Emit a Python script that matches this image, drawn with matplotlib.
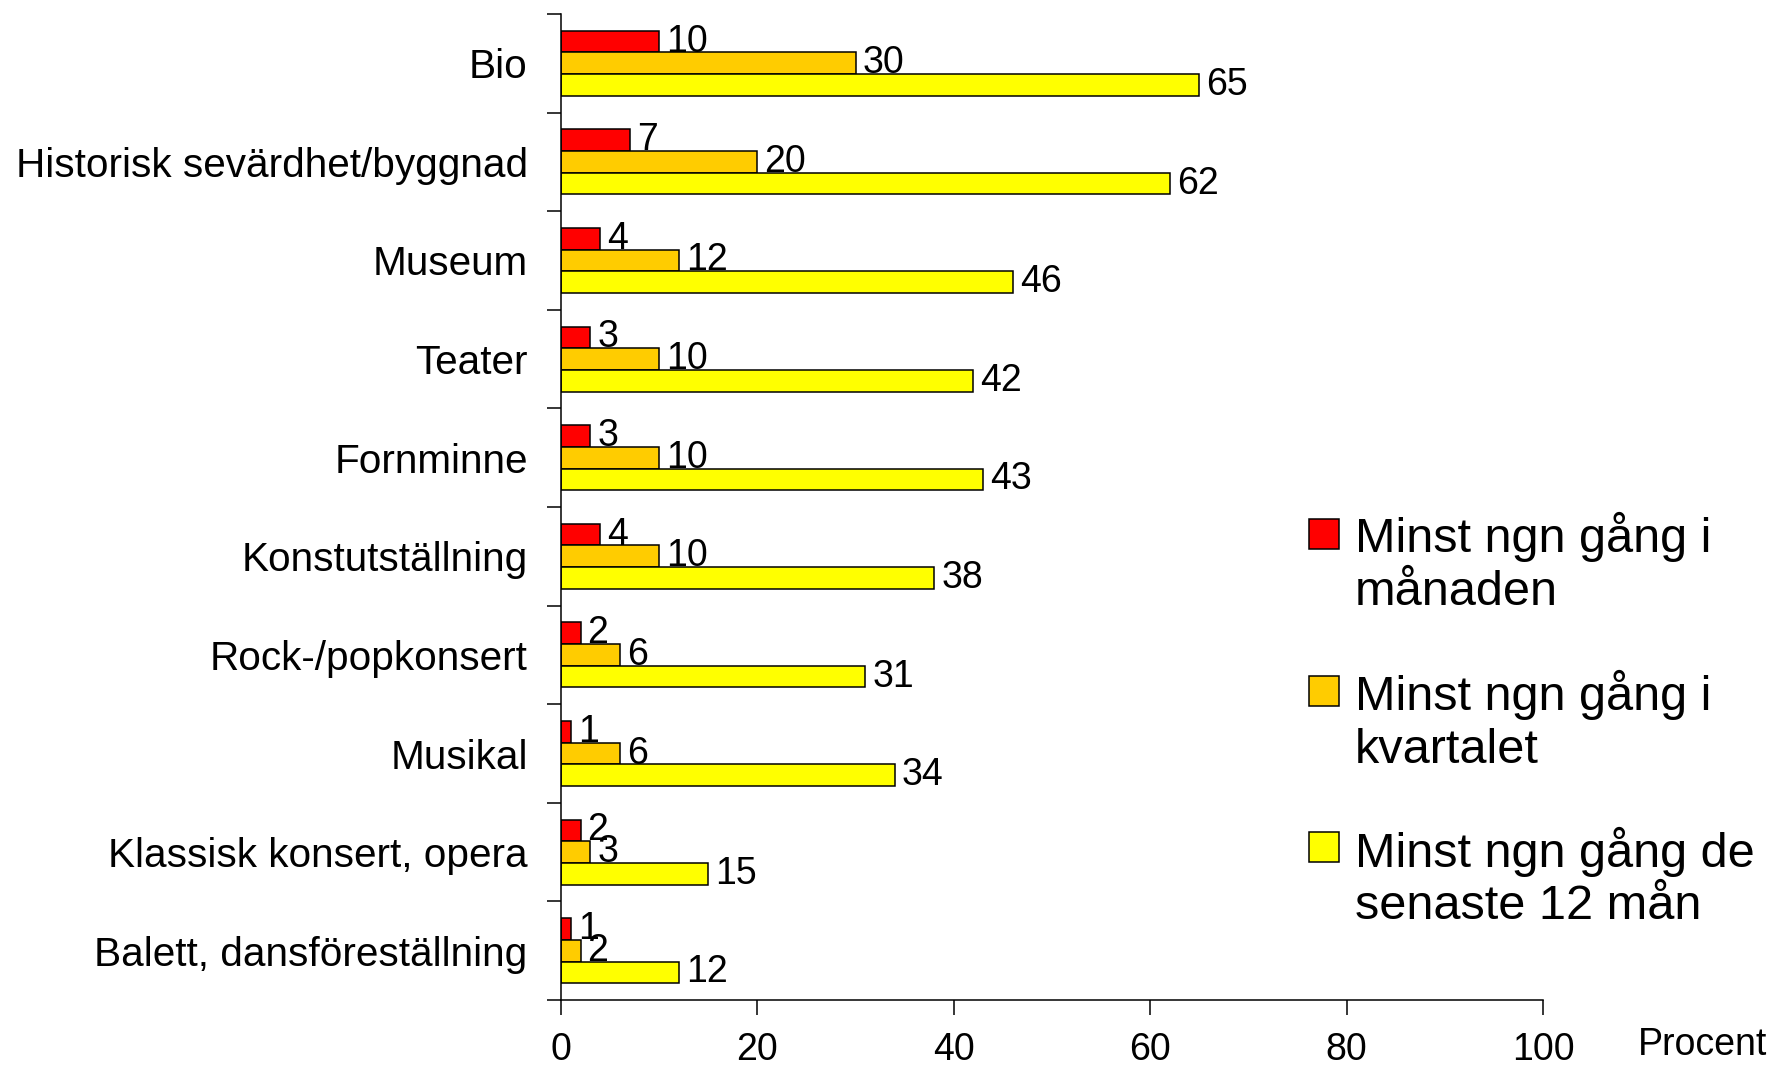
import matplotlib
matplotlib.use("Agg")
import matplotlib.pyplot as plt
from matplotlib.patches import Rectangle
import numpy as np

# data
categories = ["Bio", "Historisk sevärdhet/byggnad", "Museum", "Teater", "Fornminne",
              "Konstutställning", "Rock-/popkonsert", "Musikal",
              "Klassisk konsert, opera", "Balett, dansföreställning"]
manad = [10, 7, 4, 3, 3, 4, 2, 1, 2, 1]
kvartal = [30, 20, 12, 10, 10, 10, 6, 6, 3, 2]
ar = [65, 62, 46, 42, 43, 38, 31, 34, 15, 12]
series_names = ["Minst ngn gång i\nmånaden", "Minst ngn gång i\nkvartalet",
                "Minst ngn gång de\nsenaste 12 mån"]
colors = ["#FF0000", "#FFCC00", "#FFFF00"]
xticks = [0, 20, 40, 60, 80, 100]

plt.rcParams['font.family'] = ['Liberation Sans', 'DejaVu Sans']

fig = plt.figure(figsize=(17.73, 10.65), dpi=100)
ax = fig.add_axes([0.3164, 0.0610, 0.8703 - 0.3164, 0.9869 - 0.0610])

y = np.arange(len(categories))
h = 0.22
for i, (vals, col) in enumerate(zip([manad, kvartal, ar], colors)):
    bars = ax.barh(y + (i - 1) * h, vals, height=h, color=col,
                   edgecolor='black', linewidth=1.1)
    ax.bar_label(bars, labels=[str(v) for v in vals], padding=5, fontsize=27)

ax.set_xlim(0, 100)
ax.set_ylim(len(categories) - 0.5, -0.5)
ax.set_xticks(xticks)
ax.set_xticklabels([str(t) for t in xticks], fontsize=27)
ax.set_yticks(y)
ax.set_yticklabels(categories, fontsize=29.2)
ax.set_yticks(np.arange(len(categories) + 1) - 0.5, minor=True)

ax.tick_params(axis='y', which='major', length=0, pad=24)
ax.tick_params(axis='y', which='minor', length=10, width=1.1, direction='out')
ax.tick_params(axis='x', length=11, width=1.1, direction='out', pad=12)

for s in ['top', 'right']:
    ax.spines[s].set_visible(False)
for s in ['left', 'bottom']:
    ax.spines[s].set_linewidth(1.1)

fig.text(0.997, 1 - 1045 / 1065, "Procent", ha='right', va='center', fontsize=27)

# legend drawn by hand: squares line up with first text line
sq_w, sq_h = 30 / 1773, 30 / 1065
sq_centers = [0.4986, 0.3512, 0.2047]
txt_tops = [0.519, 0.371, 0.224]
for name, col, yc, yt in zip(series_names, colors, sq_centers, txt_tops):
    fig.add_artist(Rectangle((0.7383, yc - sq_h / 2), sq_w, sq_h,
                             transform=fig.transFigure, facecolor=col,
                             edgecolor='black', linewidth=1.1))
    fig.text(1355 / 1773, yt, name, ha='left', va='top', fontsize=35,
             linespacing=1.22)

fig.savefig("out.png", dpi=100)
